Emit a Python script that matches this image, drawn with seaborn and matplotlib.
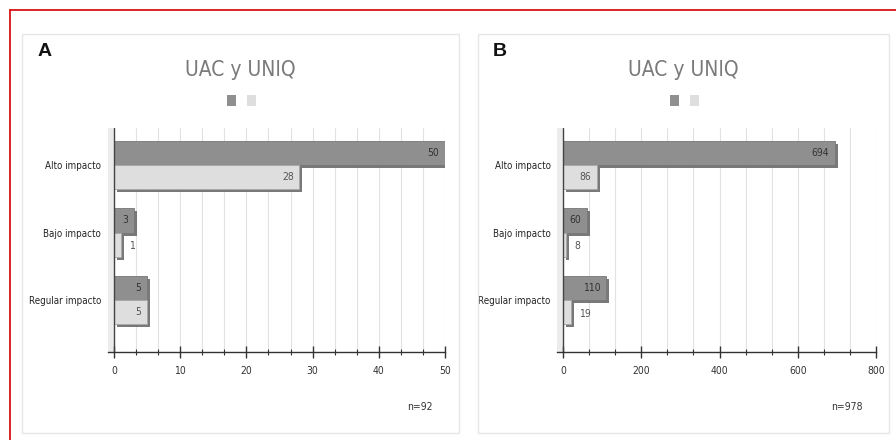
import matplotlib
matplotlib.use("Agg")
import matplotlib.pyplot as plt
import matplotlib.patheffects as pe
from matplotlib.patches import Rectangle
from matplotlib.lines import Line2D
from matplotlib.ticker import MultipleLocator
import pandas as pd
import seaborn as sns

# data
categorias = ["Alto impacto", "Bajo impacto", "Regular impacto"]
grupos = ["UAC", "UNIQ"]
valores_a = [[50, 28], [3, 1], [5, 5]]
valores_b = [[694, 86], [60, 8], [110, 19]]
n_a = "n=92"
n_b = "n=978"

DARK = "#8f8f8f"
LIGHT = "#dedede"

sns.set_theme(style="white")
# narrow look: condensed DejaVu
plt.rcParams["font.family"] = ["Liberation Sans Narrow", "DejaVu Sans"]
plt.rcParams["font.stretch"] = "condensed"


def to_long(valores):
    rows = []
    for cat, vals in zip(categorias, valores):
        for g, v in zip(grupos, vals):
            rows.append({"categoria": cat, "grupo": g, "valor": v})
    return pd.DataFrame(rows)


def draw_panel(fig, ax_rect, box_px, letra, valores, xmax, major, n_txt):
    W, H = 896, 440
    # panel frame
    x0, y0, x1, y1 = box_px
    fig.add_artist(Rectangle((x0 / W, 1 - y1 / H), (x1 - x0) / W, (y1 - y0) / H,
                             transform=fig.transFigure, fill=False,
                             edgecolor="#e6e6e6", lw=1))
    cx = (x0 + x1) / 2 / W
    fig.text(x0 / W + 0.017, 1 - 52 / H, letra, fontsize=14, fontweight="bold",
             family=["Liberation Sans", "DejaVu Sans"], fontstretch="normal",
             color="#111", va="center")
    fig.text(cx, 1 - 70 / H, "UAC y UNIQ", fontsize=15, color="#7a7a7a",
             ha="center", va="center")
    # legend squares (no labels)
    for i, c in enumerate([DARK, LIGHT]):
        fig.add_artist(Rectangle((cx + (-14 + 20 * i) / W, 1 - 106 / H), 9 / W, 11 / H,
                                 transform=fig.transFigure, facecolor=c, edgecolor="none"))

    ax = fig.add_axes(ax_rect)
    df = to_long(valores)
    sns.barplot(data=df, y="categoria", x="valor", hue="grupo", order=categorias,
                hue_order=grupos, palette=[DARK, LIGHT], orient="h", width=0.72,
                ax=ax, legend=False, saturation=1)
    pad = xmax * 0.018
    ax.set_xlim(-pad, xmax)
    ax.set_ylim(2.77, -0.55)

    for p in ax.patches:
        if p.get_width() <= 0:
            continue
        fc = p.get_facecolor()
        p.set_edgecolor("#777777" if fc[0] < 0.7 else "#a8a8a8")
        p.set_linewidth(0.6)
        p.set_path_effects([pe.SimplePatchShadow(offset=(2.2, -2.2), shadow_rgbFace="#6a6a6a", alpha=0.9),
                            pe.Normal()])

    # grey wall left of the value axis
    ax.axvspan(-pad, 0, color="#ececec", lw=0, zorder=0)

    # value labels
    ax_px = ax_rect[2] * W
    for cont, col in zip(ax.containers, ["#333333", "#555555"]):
        for p, v in zip(cont, cont.datavalues):
            yc = p.get_y() + p.get_height() / 2
            if v / xmax * ax_px < 12:
                ax.annotate(f"{int(v)}", (v, yc), xytext=(6, -1), textcoords="offset points",
                            ha="left", va="center", fontsize=7.5, color=col)
            else:
                ax.annotate(f"{int(v)}", (v, yc), xytext=(-4, 0), textcoords="offset points",
                            ha="right", va="center", fontsize=7.5, color=col)

    ax.xaxis.set_major_locator(MultipleLocator(major))
    ax.xaxis.set_minor_locator(MultipleLocator(major / 3))
    ax.grid(True, which="both", axis="x", color="#e2e2e2", lw=0.8)
    ax.set_axisbelow(True)
    ax.axvline(0, color="#444444", lw=1, zorder=1)
    for s in ["top", "right", "left"]:
        ax.spines[s].set_visible(False)
    ax.spines["bottom"].set_color("#333333")
    ax.spines["bottom"].set_linewidth(1)
    ax.tick_params(axis="x", which="major", direction="inout", length=8, width=1,
                   colors="#333333", labelsize=7.5, pad=6, bottom=True)
    ax.tick_params(axis="x", which="minor", direction="inout", length=5, width=0.8,
                   colors="#333333", bottom=True)
    ax.tick_params(axis="y", length=0, labelsize=7, pad=5, labelcolor="#222222")
    ax.set_xlabel("")
    ax.set_ylabel("")
    ax.set_facecolor("none")
    fig.text((x1 - 26) / W, 1 - 407 / H, n_txt, fontsize=7.5, color="#333",
             ha="right", va="center")
    return ax


fig = plt.figure(figsize=(8.96, 4.4), dpi=100)

# red frame (left and top edges visible)
fig.add_artist(Line2D([10 / 896, 10 / 896], [0, 1 - 10 / 440], transform=fig.transFigure,
                      color="#d40000", lw=1.2))
fig.add_artist(Line2D([10 / 896, 1], [1 - 10 / 440, 1 - 10 / 440], transform=fig.transFigure,
                      color="#d40000", lw=1.2))

draw_panel(fig, [0.1205, 0.2, 0.3762, 0.509], (22, 34, 459, 433), "A", valores_a, 50, 10, n_a)
draw_panel(fig, [0.6222, 0.2, 0.3555, 0.509], (478, 34, 889, 433), "B", valores_b, 800, 200, n_b)

fig.savefig("out.png", dpi=100)
